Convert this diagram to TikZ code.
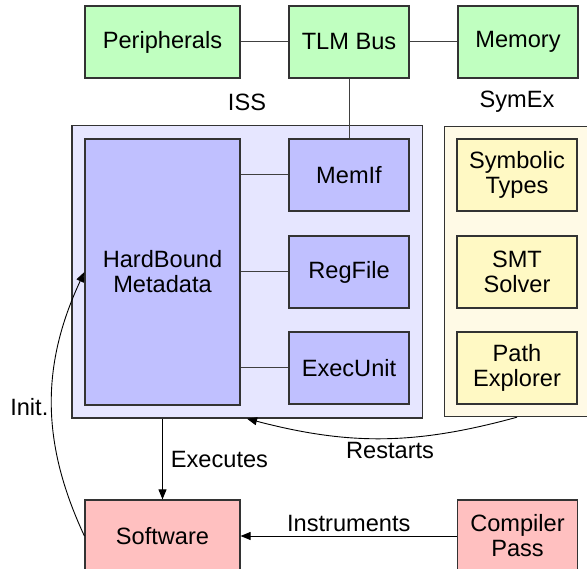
\documentclass[tikz,border=0pt]{standalone}
\usepackage{fontspec}
\setmainfont{Liberation Sans}
\usetikzlibrary{arrows.meta,fit,backgrounds}
\definecolor{cgreen}{HTML}{C0FFC0}
\definecolor{cpurple}{HTML}{C0C0FF}
\definecolor{clav}{HTML}{E6E6FF}
\definecolor{ccream}{HTML}{FFFAE6}
\definecolor{cyellow}{HTML}{FFF9C4}
\definecolor{cpink}{HTML}{FFC0C0}
\definecolor{cborder}{HTML}{333333}
\definecolor{cline}{HTML}{404040}
\tikzset{
  txt/.style={font=\fontsize{23.6}{25}\selectfont, align=center},
  box/.style={txt, draw=cborder, line width=1.2pt, inner sep=0pt, minimum height=72pt},
  wide/.style={box, minimum width=155pt},
  narrow/.style={box, minimum width=120pt},
  greenbox/.style={fill=cgreen},
  purplebox/.style={fill=cpurple},
  yellowbox/.style={fill=cyellow},
  pinkbox/.style={fill=cpink},
  group/.style={draw=cborder, line width=1.2pt, inner sep=12.5pt},
  link/.style={draw=cline, line width=1pt},
  arr/.style={draw=black, line width=0.9pt, -{Triangle[length=10pt,width=8pt]}},
  lbl/.style={txt}
}
\begin{document}
\begin{tikzpicture}[x=1pt,y=-1pt]
\useasboundingbox (0,0) rectangle (587,569);
% top row
\node[wide,greenbox] (per) at (162.5,42) {Peripherals};
\node[narrow,greenbox] (tlm) at (349,42) {TLM Bus};
\node[narrow,greenbox] (mem) at (518,42) {Memory};
% ISS
\node[wide,purplebox,minimum height=266pt] (hb) at (162.5,272) {HardBound\\Metadata};
\node[narrow,purplebox] (memif) at (349,175) {MemIf};
\node[narrow,purplebox] (reg) at (349,272) {RegFile};
\node[narrow,purplebox] (exec) at (349,368) {ExecUnit};
% SymEx
\node[narrow,yellowbox] (symt) at (517,175) {Symbolic\\Types};
\node[narrow,yellowbox] (smt) at (517,272) {SMT\\Solver};
\node[narrow,yellowbox] (path) at (517,368) {Path\\Explorer};
\begin{scope}[on background layer]
\node[group,fill=clav,fit=(hb)(memif)(exec)] (iss) {};
\node[group,fill=ccream,inner sep=12pt,fit=(symt)(path)] (symex) {};
\end{scope}
\node[lbl] (isslbl) at (247,102) {ISS};
\node[lbl] (symexlbl) at (517,102) {SymEx};
% bottom row
\node[wide,pinkbox] (sw) at (162.5,536) {Software};
\node[narrow,pinkbox] (cp) at (517.5,536) {Compiler\\Pass};
% links
\draw[link] (per) -- (tlm);
\draw[link] (tlm) -- (mem);
\draw[link] (tlm.south) -- (memif.north);
\draw[link] (memif.west) -- (memif.west -| hb.east);
\draw[link] (reg.west) -- (reg.west -| hb.east);
\draw[link] (exec.west) -- (exec.west -| hb.east);
% arrows
\draw[arr] (iss.south -| sw.north) -- node[lbl,right,inner sep=8pt] {Executes} (sw.north);
\draw[arr] (cp.west) -- node[lbl,above,inner sep=4pt] {Instruments} (sw.east);
\draw[arr] (symex.south) to[bend left=15] node[lbl,below,inner sep=3pt,xshift=8pt] {Restarts} (iss.south);
\draw[arr] (sw.west) to[bend left=25] node[lbl,left,inner sep=3pt,yshift=-3pt] {Init.} (hb.west);
\end{tikzpicture}
\end{document}
